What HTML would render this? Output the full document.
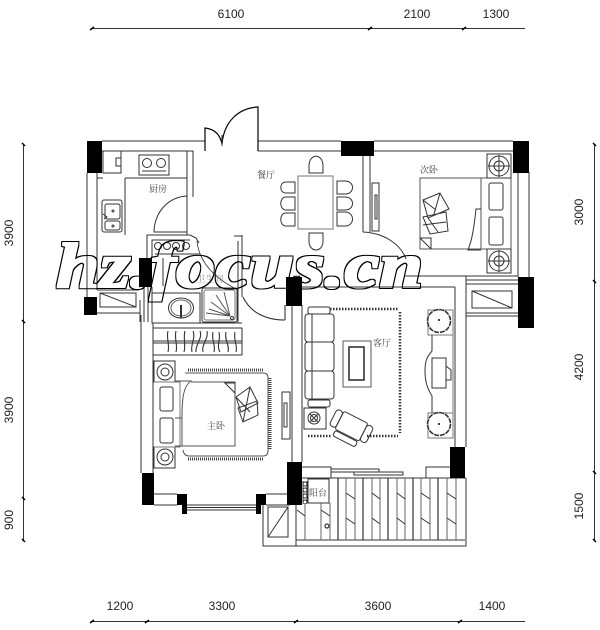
<!DOCTYPE html>
<html><head><meta charset="utf-8"><style>
html,body{margin:0;padding:0;background:#fff}
svg{display:block}
.d{font:12px "Liberation Sans",sans-serif;fill:#222;text-anchor:middle}
.l{font:9px "Liberation Serif","Noto Serif CJK SC",serif;fill:#444;text-anchor:middle}
.k{fill:#000;stroke:none}
.g{fill:none;stroke:#333;stroke-width:1}
.n{fill:none;stroke:#000;stroke-width:1.2}
</style></head><body>
<svg width="600" height="630" viewBox="0 0 600 630" xmlns="http://www.w3.org/2000/svg">
<defs>
<filter id="ring" x="-5%" y="-20%" width="110%" height="140%" color-interpolation-filters="sRGB">
<feMorphology in="SourceAlpha" operator="dilate" radius="2" result="outer"/>
<feMorphology in="SourceAlpha" operator="dilate" radius="1" result="inner"/>
<feComposite in="outer" in2="inner" operator="out"/>
</filter>
</defs>
<rect width="600" height="630" fill="#fff"/>
<!-- dimensions -->
<g fill="none" stroke="#333" stroke-width="1">
<path d="M91 28.500H525M23.500 144V541M594.500 144V541M91 621.500H525"/>
<path stroke="#000" stroke-width="1.500" d="M90 30l4-3M368 30l4-3M462 30l4-3M90 623l4-3M145 623l4-3M294 623l4-3M458 623l4-3M22 143l3 3M22 320l3 3M22 497l3 3M22 539l3 3M593 143l3 3M593 280l3 3M593 471l3 3M593 539l3 3"/>
</g>
<text class="d" x="231" y="18">6100</text><text class="d" x="417" y="18">2100</text><text class="d" x="496" y="18">1300</text>
<text class="d" x="120" y="610">1200</text><text class="d" x="222" y="610">3300</text><text class="d" x="378" y="610">3600</text><text class="d" x="492" y="610">1400</text>
<text class="d" transform="translate(13 233) rotate(-90)">3900</text><text class="d" transform="translate(13 410) rotate(-90)">3900</text><text class="d" transform="translate(13 520) rotate(-90)">900</text>
<text class="d" transform="translate(583 212) rotate(-90)">3000</text><text class="d" transform="translate(583 367) rotate(-90)">4200</text><text class="d" transform="translate(583 506) rotate(-90)">1500</text>
<!-- walls -->
<g class="g">
<path d="M102 141H205M258 141H341M374 141H513M102 151H193V196M258 151H341M374 151H513"/>
<path d="M87 173V297M97 173V290M187 151V235M193 151V197"/>
<path d="M363 156V232M370 156V232M518 172V277M529 172V277"/>
<path d="M405 276H518M370 287H455M302 287H455M455 287V447M466 276V447"/>
<path d="M141 315V473M153 323V473M292 305V462M302 305V462"/>
<path d="M154 494H177M154 505H177M266 494H287M266 505H287M187 505H256M187 507.500H256M187 510H256"/>
<path d="M97 290H139M97 313H140M100 293H136V307H100ZM100 293L136 307"/>
<path d="M466 280H518M466 284H518M466 313H518M466 316H518M472 291H512V308H472ZM472 291L512 308"/>
<path d="M302 467H331V478H302M426 478V467H450M296 478H466"/>
</g>
<!-- black columns -->
<path class="k" d="M87 141h15v32h-15zM341 141h33v15h-33zM513 141h16v32h-16zM518 277h16v51h-16zM139 258h13v29h-13zM84 297h13v18h-13zM286 277h16v29h-16zM142 473h12v32h-12zM287 462h15v43h-15zM450 447h15v31h-15zM177 494h10v11h-10zM182 505h5v9h-5zM256 494h10v11h-10zM256 505h5v9h-5z"/>
<!-- entry doors -->
<path class="n" d="M205 151V128C214 129 220 134 222 144M258 151V107C238 108 224 122 222 144"/>
<path class="g" d="M222 135V146"/>
<!-- kitchen -->
<g class="g">
<path d="M103 151H121V173H103ZM116 158H121V166H116Z"/>
<path d="M125 178H187M125 178V235M97 178H103"/>
<rect x="139" y="155" width="30" height="20"/><circle cx="147" cy="163" r="4.500"/><circle cx="161" cy="163" r="4.500"/><path d="M142 171H166"/>
<rect x="102" y="200" width="20" height="32" rx="2"/><rect x="105" y="204" width="15" height="15" rx="2"/><rect x="105" y="221" width="15" height="9" rx="2"/><circle cx="113" cy="211" r="1"/><circle cx="113" cy="226" r="1"/><path d="M103 214l4 3-3 2"/>
<path d="M187 196C168 197 155 212 154 231V232H187"/>
</g>
<!-- bathroom -->
<g class="g">
<path d="M147 258V235H190L196 238L199 243M152 258V240H190M152 287V323H242M238 241V323M242 235V297M234 236H242"/>
<path d="M197 241C199 262 214 278 238 290" stroke-width=".8"/>
<circle cx="158" cy="246" r="3.500"/><circle cx="167" cy="246" r="3.500"/><circle cx="176" cy="246" r="3.500"/><circle cx="186" cy="246" r="3.500"/>
<path d="M152 293H200V323M155 254H200M163 258V286"/>
<ellipse cx="181" cy="308" rx="12.500" ry="10"/><ellipse cx="181" cy="308" rx="10" ry="8" stroke="#666"/><path d="M181 305V318" stroke-width="2"/>
<rect x="202" y="288" width="35" height="34" rx="2"/><rect x="204" y="290" width="31" height="30" rx="2" stroke="#777"/><circle cx="232" cy="318" r="1.500"/>
<path d="M230 316L224 292M230 316L216 295M230 316L211 302M230 316L209 309M230 316L206 313" stroke="#555"/>
<path d="M243 297C250 312 265 320 285 320M285 305V320" stroke-width="1.100"/>
<path d="M140 300V322M144 287V322M148 287V322"/>
</g>
<!-- dining -->
<g class="g">
<rect x="298" y="176" width="35" height="53" stroke="#777"/>
<path d="M295 182H286C279 182 279 193 286 193H295ZM295 197H286C279 197 279 210 286 210H295ZM295 213H286C279 213 279 226 286 226H295ZM337 181H345C355 181 355 194 345 194H337ZM337 197H345C355 197 355 210 345 210H337ZM337 212H345C355 212 355 226 345 226H337ZM309 173V166C309 153 323 153 323 166V173ZM309 233V241C309 253 323 253 323 241V233Z"/>
</g>
<!-- second bedroom -->
<g class="g">
<path d="M372 183H379V231H372ZM375 195H377V219H375ZM363 232C385 233 401 245 406 259"/>
<rect x="420" y="178" width="61" height="71" stroke="#555"/>
<rect x="481" y="178" width="30" height="71" stroke="#555"/><rect x="487" y="154" width="24" height="24"/><rect x="487" y="249" width="24" height="24"/>
<circle cx="499" cy="166" r="10"/><circle cx="499" cy="166" r="5"/><path d="M499 155V177M488 166H510"/><circle cx="499" cy="261" r="10"/><circle cx="499" cy="261" r="5"/><path d="M499 250V272M488 261H510"/>
<rect x="489" y="183" width="14" height="27" rx="2"/><rect x="489" y="217" width="14" height="28" rx="2"/>
<path d="M481 209H476C474 228 472 240 468 250H481"/>
<path d="M420 238H431V249M420 238L431 249"/>
<path d="M423 200L440 193L449 209L428 218ZM423 217L446 212L448 231L430 234ZM423 200L436 210M428 218L438 232M440 193L434 214M423 225L446 222"/>
</g>
<!-- master bedroom -->
<g class="g">
<path d="M153 328H242V355H153M153 341H242M153 343H242"/>
<path d="M168 331C166 338 170 345 168 352M176 331C174 338 178 345 176 352M185 331C183 338 186 345 184 352M193 331C196 338 190 345 192 352M200 331C203 338 195 345 196 352M207 331C209 338 201 345 203 352M213 332C211 340 216 345 214 352M219 332C221 340 216 346 220 352M226 332C224 340 230 345 228 352M235 332C233 340 238 345 236 352" stroke-width="1.100"/>
<path d="M185 373H263Q268 373 268 378V451Q268 456 263 456H189Q184 456 183 450" stroke="#555"/>
<rect x="154" y="361" width="21" height="21"/><rect x="154" y="447" width="21" height="21"/><circle cx="165" cy="372" r="8"/><circle cx="165" cy="372" r="4"/><circle cx="165" cy="457" r="8"/><circle cx="165" cy="457" r="4"/>
<path d="M154 382H180V447H154" stroke="#777"/>
<rect x="160" y="387" width="13" height="24" rx="2"/><rect x="160" y="418" width="13" height="25" rx="2"/>
<path d="M175 381H191C183 386 182 400 182 418H175M182 418V446M175 446H235V382H191" stroke="#555"/>
<path d="M225 383H235V393ZM225 383L235 393"/>
<path d="M236 397L250 387L258 403L241 412ZM238 408L257 401L258 415L243 422ZM236 397L250 412M250 387L243 422"/>
<path d="M282 392H290V439H282ZM284 403H287V427H284Z"/>
</g>
<path fill="none" stroke="#444" stroke-width="3" stroke-dasharray="1 1" d="M188 370H264M270 378V450M188 459H264"/>
<!-- living room -->
<g class="g">
<rect x="308" y="307" width="22" height="7" rx="2"/><rect x="308" y="400" width="22" height="7" rx="2"/>
<rect x="305" y="314" width="29" height="28" rx="3"/><rect x="305" y="342" width="29" height="29" rx="3"/><rect x="305" y="371" width="29" height="28" rx="3"/><path d="M312 314V399"/>
<rect x="343" y="341" width="28" height="46" stroke="#555"/><rect x="349" y="347" width="15" height="33" stroke-width="1.600"/>
<rect x="304" y="408" width="22" height="21"/><circle cx="314" cy="418" r="6"/><circle cx="314" cy="418" r="3.500"/><path d="M310 414L318 422M318 414L310 422"/>
<g transform="rotate(27 351 426)"><rect x="338" y="416" width="27" height="20" rx="2"/><rect x="331" y="417" width="7" height="18" rx="3"/><rect x="365" y="417" width="7" height="18" rx="3"/><rect x="339" y="437" width="25" height="6" rx="2"/></g>
<rect x="428" y="310" width="25" height="25" stroke="#777"/><rect x="428" y="413" width="25" height="25" stroke="#777"/>
<circle cx="439" cy="321" r="11.500" stroke-width="1.600" stroke-dasharray="5 1"/><circle cx="439" cy="424" r="11.500" stroke-width="1.600" stroke-dasharray="5 1"/>
<path d="M432 335V351C426 358 425 362 425 372C425 382 428 390 432 396V413"/>
<path d="M453 335V413" stroke="#777"/>
<rect x="432" y="358" width="14" height="30"/><path d="M446 366L451 370V380H446"/>
<path d="M331 469H379V472H331ZM354 472H403V475H354Z"/>
</g>
<circle cx="439" cy="320" r="1" fill="#000"/><circle cx="439" cy="424" r="1" fill="#000"/>
<path fill="none" stroke="#333" stroke-width="2.500" stroke-dasharray="1.500 1.500" d="M330 309H398M400 312V433M367 436H398M308 436H332"/>
<!-- balcony -->
<g class="g">
<path d="M296 505V546H466V478M296 540H465M270 505H290M263 505V546H296M268 507H288V537H268ZM268 537L288 507"/>
<path d="M308 479H329V503H308ZM303 481V503M307 481V503"/><circle cx="305" cy="484" r="2"/><circle cx="305" cy="490" r="2"/><circle cx="305" cy="496" r="2"/><circle cx="305" cy="502" r="2"/>
<path stroke-width="1.200" d="M338 478V540M363 478V540M388 478V540M413 478V540M438 478V540"/>
<path stroke="#666" d="M305 505V540M321 503V540M330 503V540M346 478V540M355 478V540M372 478V540M380 478V540M397 478V540M405 478V540M421 478V540M430 478V540M447 478V540M456 478V540"/>
<path d="M297 510L305 516M321 510L330 516M346 493L355 499M372 493L380 499M397 493L405 499M421 493L430 499M447 493L456 499M346 518L355 524M372 518L380 524M397 518L405 524M421 518L430 524M447 518L456 524"/>
<circle cx="327" cy="526" r="2" stroke-width="1.200"/>
</g>
<!-- labels -->
<text class="l" x="266" y="178">餐厅</text><text class="l" x="158" y="192">厨房</text><text class="l" x="429" y="173">次卧</text><text class="l" x="382" y="346">客厅</text><text class="l" x="216" y="429">主卧</text><text class="l" x="318" y="496">阳台</text><text class="l" x="210" y="282" fill-opacity=".6">卫生间</text>
<!-- watermark: outline only, the plan shows through -->
<text x="56" y="287" font-family="Liberation Serif, serif" font-style="italic" font-weight="bold" font-size="64" textLength="367" lengthAdjust="spacingAndGlyphs" fill="#000" filter="url(#ring)">hz.focus.cn</text>
</svg>
</body></html>
